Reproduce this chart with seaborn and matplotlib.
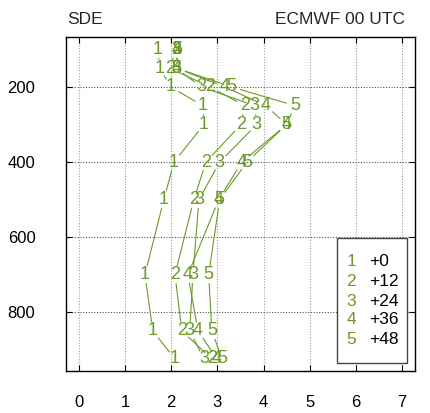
import numpy as np
import pandas as pd
import matplotlib
matplotlib.use("Agg")
import matplotlib.pyplot as plt
import seaborn as sns
from matplotlib.patches import Rectangle

# ---------------- data ----------------
levels = [100, 150, 200, 250, 300, 400, 500, 700, 850, 925]
s1 = [1.71, 1.75, 1.99, 2.68, 2.71, 2.06, 1.84, 1.43, 1.60, 2.08]
s2 = [2.10, 1.97, 2.84, 3.59, 3.51, 2.75, 2.49, 2.08, 2.23, 2.88]
s3 = [2.12, 2.10, 2.66, 3.81, 3.85, 3.05, 2.60, 2.47, 2.40, 2.71]
s4 = [2.12, 2.12, 3.16, 4.05, 4.50, 3.53, 3.03, 2.36, 2.58, 2.99]
s5 = [2.13, 2.12, 3.31, 4.68, 4.50, 3.64, 3.05, 2.81, 2.88, 3.10]
series_marks = ["1", "2", "3", "4", "5"]
legend_texts = ["+0", "+12", "+24", "+36", "+48"]
x_ticks = [0, 1, 2, 3, 4, 5, 6, 7]
y_ticks = [200, 400, 600, 800]
title_left = "SDE"
title_right = "ECMWF 00 UTC"

GREEN = "#6b9a2a"
W, H = 430, 413

sns.set_style("ticks")
plt.rcParams["font.family"] = ["Liberation Sans", "DejaVu Sans"]

fig = plt.figure(figsize=(W / 100, H / 100), dpi=100)
ax_l, ax_r, ax_t, ax_b = 66, 415, 36.7, 371
ax = fig.add_axes([ax_l / W, 1 - ax_b / H, (ax_r - ax_l) / W, (ax_b - ax_t) / H])
ax.set_xlim(-0.28, 7.28)
ax.set_ylim(957, 66)

all_series = [s1, s2, s3, s4, s5]

# build gapped segments (lines stop short of the digit markers)
gap = 9.0
rows = []
inv = ax.transData.inverted()
for k, xs in enumerate(all_series):
    pts = ax.transData.transform(np.column_stack([xs, levels]))
    for i in range(len(pts) - 1):
        p, q = pts[i], pts[i + 1]
        d = q - p
        L = np.hypot(*d)
        if L <= 2 * gap:
            continue
        u = d / L
        a, b = inv.transform(np.vstack([p + u * gap, q - u * gap]))
        seg = f"{k}-{i}"
        rows.append(dict(x=a[0], y=a[1], seg=seg, order=0))
        rows.append(dict(x=b[0], y=b[1], seg=seg, order=1))
df = pd.DataFrame(rows)

sns.lineplot(data=df, x="x", y="y", units="seg", estimator=None, sort=False,
             color=GREEN, lw=0.8, ax=ax, legend=False)

for k, xs in enumerate(all_series):
    for xv, yv in zip(xs, levels):
        ax.text(xv, yv, series_marks[k], ha="center", va="center",
                color=GREEN, fontsize=13, zorder=5)

ax.set_xlim(-0.28, 7.28)
ax.set_ylim(957, 66)
ax.set_xlabel("")
ax.set_ylabel("")
ax.set_xticks(x_ticks)
ax.set_yticks(y_ticks)
ax.tick_params(direction="in", top=True, right=True, length=4, width=0.8,
               labelsize=12, colors="black")
ax.tick_params(axis="x", pad=17)
ax.tick_params(axis="y", pad=22)
ax.set_axisbelow(True)
ax.xaxis.grid(True, color="#9a9a9a", ls=(0, (1, 1.5)), lw=0.8)
ax.yaxis.grid(True, color="#555555", ls=(0, (1, 1.5)), lw=0.8)
for sp in ax.spines.values():
    sp.set_visible(True)
    sp.set_color("black")
    sp.set_linewidth(1.0)

fig.text(67 / W, 1 - 20 / H, title_left, ha="left", va="center", fontsize=12.5)
fig.text(405 / W, 1 - 20 / H, title_right, ha="right", va="center", fontsize=12.5)

# legend box
bx0, bx1, by0, by1 = 337, 407, 238, 363
fig.patches.append(Rectangle((bx0 / W, 1 - by1 / H), (bx1 - bx0) / W, (by1 - by0) / H,
                             transform=fig.transFigure, fill=True, facecolor="white",
                             edgecolor="#444444", lw=1.0, zorder=6))
row_y = [262, 281, 301, 320, 340]
for mk, txt, ry in zip(series_marks, legend_texts, row_y):
    fig.text(351 / W, 1 - ry / H, mk, ha="center", va="center", color=GREEN,
             fontsize=12.5, zorder=7)
    fig.text(369 / W, 1 - ry / H, txt, ha="left", va="center", color="black",
             fontsize=12.5, zorder=7)

fig.savefig("out.png", dpi=100)
